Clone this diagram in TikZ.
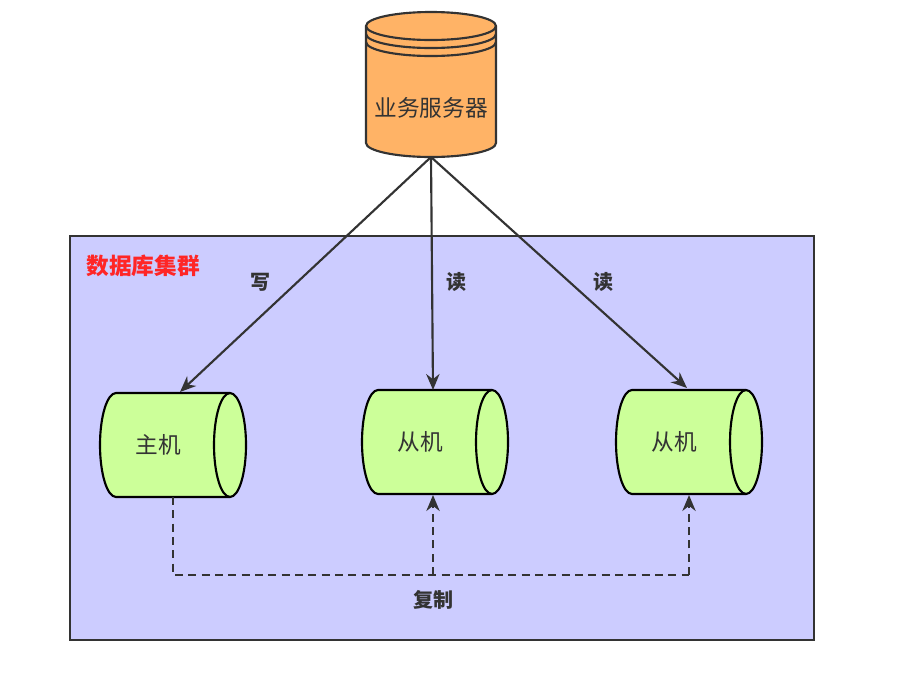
\documentclass[tikz,border=0pt]{standalone}
\usepackage{fontspec}
\newfontfamily\cjk{Noto Sans CJK SC}
\usetikzlibrary{arrows.meta}
\definecolor{clus}{HTML}{CCCCFF}
\definecolor{org}{HTML}{FFB366}
\definecolor{grn}{HTML}{CCFF99}
\definecolor{ln}{HTML}{333333}
\tikzset{
  conn/.style={draw=ln,line width=1.6pt,-{Stealth[length=12pt,width=10pt]}},
  dconn/.style={draw=ln,line width=1.6pt,dash pattern=on 6pt off 4pt},
  lab/.style={font=\cjk\fontsize{15}{15}\selectfont\bfseries,text=ln},
  txt/.style={font=\cjk\fontsize{17}{17}\selectfont,text=ln},
  hcyl/.style={draw=black,line width=1.6pt,fill=grn}
}
\newcommand{\hcylinder}[4]{% name, xl, yt, xr ; height 104
  \path[hcyl] (#2+16,-#3) -- (#4-16,-#3) arc[start angle=90,end angle=-90,x radius=16,y radius=52]
     -- (#2+16,-#3-104) arc[start angle=270,end angle=90,x radius=16,y radius=52] -- cycle;
  \draw[line width=1.6pt] (#4-16,-#3) arc[start angle=90,end angle=270,x radius=16,y radius=52];
}
\begin{document}
\begin{tikzpicture}[x=0.75pt,y=0.75pt]
\useasboundingbox (0,0) rectangle (923,-683);
\fill[white] (0,0) rectangle (923,-683);
\draw[fill=clus,draw=ln,line width=1.6pt] (70,-236) rectangle (814,-640);
\node[font=\cjk\fontsize{17}{17}\selectfont\bfseries,text=red!85!white] (cl) at (143,-266) {数据库集群};
% top cylinder
\path[draw=ln,fill=org,line width=1.6pt] (366,-26) -- (366,-143) arc[start angle=180,end angle=360,x radius=65,y radius=14] -- (496,-26) arc[start angle=0,end angle=180,x radius=65,y radius=14] -- cycle;
\draw[ln,line width=1.6pt] (366,-26) arc[start angle=180,end angle=360,x radius=65,y radius=14];
\draw[ln,line width=1.6pt] (366,-34) arc[start angle=180,end angle=360,x radius=65,y radius=14];
\draw[ln,line width=1.6pt] (366,-42) arc[start angle=180,end angle=360,x radius=65,y radius=14];
\node[txt] (srv) at (431,-108) {业务服务器};
\coordinate (srvb) at (431,-157);
\hcylinder{m}{100}{393}{246}
\hcylinder{s1}{362}{390}{508}
\hcylinder{s2}{616}{390}{762}
\node[txt] (mn) at (158,-445) {主机};
\node[txt] (s1n) at (420,-442) {从机};
\node[txt] (s2n) at (674,-442) {从机};
\coordinate (mt) at (180,-392);
\coordinate (s1t) at (433,-390);
\coordinate (s2t) at (687,-388);
\draw[conn] (srvb) -- (mt);
\draw[conn] (srvb) -- (s1t);
\draw[conn] (srvb) -- (s2t);
\node[lab] at (260,-282) {写};
\node[lab] at (456,-282) {读};
\node[lab] at (603,-282) {读};
\coordinate (mb) at (173,-497);
\coordinate (c1) at (173,-575);
\coordinate (c2) at (433,-575);
\coordinate (c3) at (689,-575);
\coordinate (e1) at (433,-495);
\coordinate (e2) at (689,-495);
\draw[dconn] (mb) -- (c1) -- (c3);
\draw[dconn,-{Stealth[length=12pt,width=10pt]}] (c2) -- (e1);
\draw[dconn,-{Stealth[length=12pt,width=10pt]}] (c3) -- (e2);
\node[lab] at (433,-600) {复制};
\end{tikzpicture}
\end{document}
